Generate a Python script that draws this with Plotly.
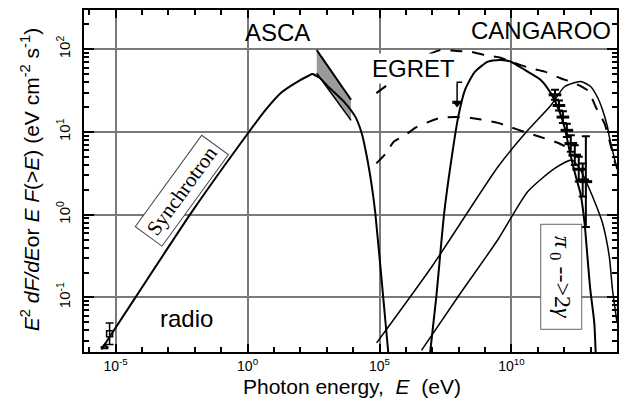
import numpy as np
import plotly.graph_objects as go

# ---- data (log10 of photon energy in eV, log10 of flux in eV cm^-2 s^-1) ----
synch_logE = [-5.54, -4.25, -2.1, 0.05, 0.69, 1.29, 1.9, 2.31, 2.45, 2.75, 3.08, 3.7, 4.09, 4.32, 4.52, 4.71, 4.84, 5.14, 5.33]
synch_logF = [-1.63, -1.0, 0.04, 1.0, 1.27, 1.48, 1.61, 1.68, 1.70, 1.65, 1.54, 1.35, 1.18, 0.99, 0.70, 0.34, 0.02, -1.0, -1.66]

ic_logE = [6.92, 7.15, 7.45, 7.72, 7.98, 8.24, 8.62, 9.11, 9.6, 9.98, 10.51, 11.11, 11.49, 11.79, 12.01, 12.24, 12.45, 12.62, 12.77, 12.88, 12.99, 13.14, 13.19]
ic_logF = [-1.66, -1.0, 0.02, 0.66, 1.18, 1.51, 1.73, 1.85, 1.87, 1.85, 1.75, 1.63, 1.47, 1.27, 1.06, 0.72, 0.45, 0.25, -0.1, -0.51, -0.91, -1.31, -1.66]

pi1_logE = [4.89, 7.0, 9.49, 10.62, 11.49, 12.02, 12.62, 13.0, 13.26, 13.45, 13.64, 13.71, 14.0]
pi1_logF = [-1.55, -0.62, 0.58, 1.02, 1.32, 1.55, 1.61, 1.55, 1.42, 1.27, 1.06, 0.94, 0.55]

pi2_logE = [6.59, 8.0, 9.49, 10.62, 11.64, 12.3, 12.6, 12.9, 13.2, 13.45, 13.71, 13.83, 14.0]
pi2_logF = [-1.64, -0.98, -0.30, 0.28, 0.56, 0.66, 0.55, 0.35, 0.12, -0.1, -0.51, -0.91, -1.3]

dashA_logE = [4.88, 5.26, 6.3, 7.3, 7.9, 8.47, 9.0, 9.56, 9.98, 10.73, 11.26, 11.86, 12.39, 12.9, 13.2, 13.53, 13.71, 13.95]
dashA_logF = [1.47, 1.56, 1.85, 1.99, 1.98, 1.97, 1.93, 1.90, 1.85, 1.77, 1.73, 1.65, 1.59, 1.50, 1.30, 1.10, 0.90, 0.60]

dashB_logE = [4.88, 5.26, 5.53, 5.97, 6.35, 6.84, 7.3, 7.9, 8.47, 8.85, 9.48, 9.86, 10.5, 11.1, 11.75, 12.2]
dashB_logF = [0.62, 0.75, 0.88, 0.96, 1.05, 1.12, 1.17, 1.18, 1.17, 1.15, 1.11, 1.07, 1.0, 0.94, 0.87, 0.8]

asca_logE = [2.62, 3.92]
asca_hi_logF = [1.99, 1.39]
asca_lo_logF = [1.71, 1.14]

radio_logE = [-5.23, -5.42]
radio_logF = [-1.44, -1.60]
radio_err_up = [0.13, 0.0]
radio_err_dn = [0.13, 0.0]

egret_logE = [7.94]
egret_logF = [1.35]
egret_lim_top = [1.60]

cang_logE = [11.65, 11.8, 11.95, 12.1, 12.25, 12.4, 12.55, 12.7, 12.82]
cang_logF = [1.45, 1.32, 1.18, 1.02, 0.86, 0.72, 0.55, 0.42, 0.40]
cang_err = [0.06, 0.06, 0.07, 0.08, 0.10, 0.12, 0.15, 0.20, 0.55]

xtick_vals = [-5, 0, 5, 10]
ytick_vals = [-1, 0, 1, 2]

def p(a):
    return (10.0 ** np.array(a, dtype=float)).tolist()

fig = go.Figure()

# ASCA band
fig.add_trace(go.Scatter(x=p(asca_logE), y=p(asca_lo_logF), mode="lines",
                         line=dict(color="black", width=1.5), showlegend=False))
fig.add_trace(go.Scatter(x=p(asca_logE), y=p(asca_hi_logF), mode="lines",
                         line=dict(color="black", width=2), fill="tonexty",
                         fillcolor="#9a9a9a", showlegend=False))

def curve(lx, ly, width=2, dash=None):
    fig.add_trace(go.Scatter(x=p(lx), y=p(ly), mode="lines",
                             line=dict(color="black", width=width, shape="spline", smoothing=0.6,
                                       dash=dash),
                             showlegend=False))

curve(synch_logE, synch_logF, 2)
curve(ic_logE, ic_logF, 2)
curve(pi1_logE, pi1_logF, 1.5)
curve(pi2_logE, pi2_logF, 1.5)
curve(dashA_logE, dashA_logF, 2, "12px,10px")
curve(dashB_logE, dashB_logF, 2, "12px,10px")

# radio points
ry = np.array(radio_logF)
fig.add_trace(go.Scatter(
    x=p(radio_logE), y=p(radio_logF), mode="markers",
    marker=dict(symbol=["square-open", "triangle-up-open"], size=6, color="black",
                line=dict(width=1.5, color="black")),
    error_y=dict(type="data", symmetric=False,
                 array=(10 ** (ry + np.array(radio_err_up)) - 10 ** ry).tolist(),
                 arrayminus=(10 ** ry - 10 ** (ry - np.array(radio_err_dn))).tolist(),
                 color="black", thickness=1.5, width=4),
    showlegend=False))

# EGRET upper limit
ey = np.array(egret_logF)
fig.add_trace(go.Scatter(
    x=p(egret_logE), y=p(egret_logF), mode="markers",
    marker=dict(symbol="triangle-down", size=9, color="black"),
    error_y=dict(type="data", symmetric=False,
                 array=(10 ** np.array(egret_lim_top) - 10 ** ey).tolist(),
                 arrayminus=[0], color="black", thickness=1.5, width=5),
    showlegend=False))

# CANGAROO points
cy = np.array(cang_logF)
ce = np.array(cang_err)
fig.add_trace(go.Scatter(
    x=p(cang_logE), y=p(cang_logF), mode="markers",
    marker=dict(symbol="line-ew", size=9, color="black", line=dict(width=3, color="black")),
    error_y=dict(type="data", symmetric=False,
                 array=(10 ** (cy + ce) - 10 ** cy).tolist(),
                 arrayminus=(10 ** cy - 10 ** (cy - ce)).tolist(),
                 color="black", thickness=2, width=4),
    showlegend=False))

font_sans = "Liberation Sans, Arial, Helvetica, sans-serif"
font_serif = "Liberation Serif, Times New Roman, serif"

L, R, T, B = 84, 1, 10, 47
W, H = 620, 399
pw, ph = W - L - R, H - T - B

def px(xp):
    return (xp - L) / pw

def py(yp):
    return (H - B - yp) / ph

ann = []
def text(s, x, y, size=24, **kw):
    d = dict(text=s, x=px(x), y=py(y), xref="paper", yref="paper", showarrow=False,
             font=dict(family=kw.pop("family", font_sans), size=size, color="black"),
             xanchor=kw.pop("xanchor", "center"), yanchor=kw.pop("yanchor", "middle"))
    d.update(kw)
    ann.append(d)

text("ASCA", 278, 32)
text("CANGAROO", 470, 31, xanchor="left")
text("EGRET", 415, 68, bgcolor="white")
text("radio", 187, 318)
text("Synchrotron", 182, 191, size=21, family=font_serif, textangle=-54,
     bordercolor="#444", borderwidth=1, borderpad=4, bgcolor="white")
text("&nbsp;<i>π</i><sub> 0</sub> --&gt;2<i>γ</i>&nbsp;", 563, 277, size=24, family=font_serif,
     textangle=90, bordercolor="#666", borderwidth=1, borderpad=5, bgcolor="white")
text("Photon energy,&nbsp;&nbsp;<i>E</i>&nbsp;&nbsp;(eV)", 353, 400, size=21, yanchor="bottom")
text("<i>E</i><sup>2</sup> <i>dF/dE</i>or <i>E F</i>(&gt;<i>E</i>) (eV cm<sup>-2</sup> s<sup>-1</sup>)",
     30, 180, size=21, textangle=-90)

fig.update_layout(
    width=W, height=H,
    margin=dict(l=L, r=R, t=T, b=B),
    paper_bgcolor="white", plot_bgcolor="white",
    font=dict(family=font_sans, color="black", size=16),
    annotations=ann,
    showlegend=False,
)

fig.update_xaxes(
    type="log", range=[-6.2, 14.0],
    tickvals=p(xtick_vals),
    ticktext=["10<sup>%d</sup>" % v for v in xtick_vals],
    ticks="inside", ticklen=8, tickwidth=1.5, tickcolor="black",
    showgrid=True, gridcolor="#7a7a7a", gridwidth=1.6,
    showline=True, linecolor="black", linewidth=2, mirror="ticks",
    zeroline=False, ticklabelstandoff=0,
    minor=dict(tickvals=p(list(range(-6, 15))), ticks="inside", ticklen=5,
               tickwidth=1.5, tickcolor="black", showgrid=False),
    tickfont=dict(size=14),
)
fig.update_yaxes(
    type="log", range=[-1.66, 2.475],
    tickvals=p(ytick_vals),
    ticktext=["10<sup>%d</sup>" % v for v in ytick_vals],
    tickangle=-90,
    ticks="inside", ticklen=10, tickwidth=1.5, tickcolor="black",
    showgrid=True, gridcolor="#7a7a7a", gridwidth=1.6,
    showline=True, linecolor="black", linewidth=2, mirror="ticks",
    zeroline=False, ticklabelstandoff=6,
    minor=dict(tickvals=[m * 10.0 ** k for k in range(-2, 3) for m in range(2, 10)],
               ticks="inside", ticklen=5, tickwidth=1.5, tickcolor="black", showgrid=False),
    tickfont=dict(size=15),
)

fig.write_html("out.html")
